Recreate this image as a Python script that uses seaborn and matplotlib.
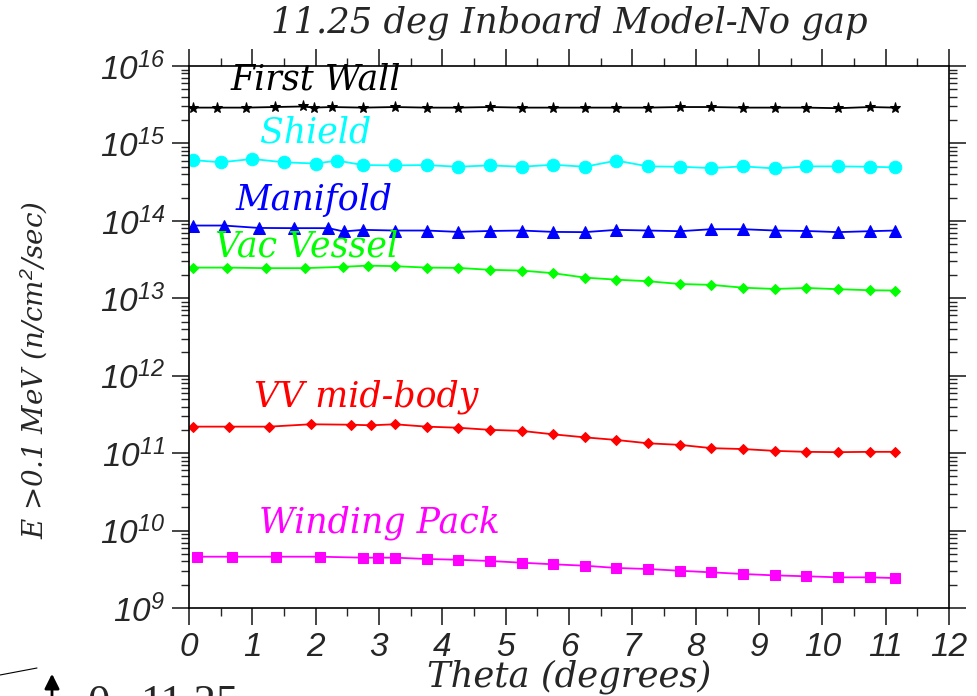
import numpy as np
import pandas as pd
import matplotlib
matplotlib.use("Agg")
import matplotlib.pyplot as plt
import matplotlib.ticker as mticker
import seaborn as sns

# --- data ---
fw_theta = [0.06, 0.44, 0.9, 1.35, 1.8, 1.97, 2.25, 2.75, 3.25, 3.75, 4.25, 4.75, 5.25,
            5.75, 6.25, 6.75, 7.25, 7.75, 8.25, 8.75, 9.25, 9.75, 10.25, 10.75, 11.15]
fw_flux = [2.9e15, 2.9e15, 2.9e15, 2.95e15, 3.0e15, 2.9e15, 2.95e15, 2.9e15, 2.95e15, 2.9e15,
           2.9e15, 2.95e15, 2.9e15, 2.9e15, 2.9e15, 2.9e15, 2.9e15, 2.95e15, 2.95e15, 2.9e15,
           2.9e15, 2.9e15, 2.85e15, 2.95e15, 2.9e15]

sh_theta = [0.06, 0.5, 1.0, 1.5, 2.0, 2.34, 2.75, 3.25, 3.75, 4.25, 4.75, 5.25,
            5.75, 6.25, 6.75, 7.25, 7.75, 8.25, 8.75, 9.25, 9.75, 10.25, 10.75, 11.15]
sh_flux = [6.1e14, 5.7e14, 6.3e14, 5.7e14, 5.5e14, 6.0e14, 5.25e14, 5.2e14, 5.25e14, 5.0e14,
           5.2e14, 5.0e14, 5.3e14, 5.0e14, 6.0e14, 5.05e14, 5.0e14, 4.8e14, 5.05e14, 4.75e14,
           5.05e14, 5.05e14, 5.0e14, 4.9e14]

mf_theta = [0.06, 0.55, 1.1, 1.65, 2.2, 2.44, 2.75, 3.25, 3.75, 4.25, 4.75, 5.25,
            5.75, 6.25, 6.75, 7.25, 7.75, 8.25, 8.75, 9.25, 9.75, 10.25, 10.75, 11.15]
mf_flux = [8.7e13, 8.7e13, 8.1e13, 8.05e13, 8.05e13, 7.3e13, 7.65e13, 7.5e13, 7.5e13, 7.2e13,
           7.4e13, 7.5e13, 7.2e13, 7.15e13, 7.65e13, 7.5e13, 7.35e13, 7.8e13, 7.8e13, 7.5e13,
           7.4e13, 7.15e13, 7.35e13, 7.5e13]

vv_theta = [0.06, 0.6, 1.22, 1.83, 2.43, 2.82, 3.25, 3.75, 4.25, 4.75, 5.25,
            5.75, 6.25, 6.75, 7.25, 7.75, 8.25, 8.75, 9.25, 9.75, 10.25, 10.75, 11.15]
vv_flux = [2.49e13, 2.49e13, 2.45e13, 2.45e13, 2.55e13, 2.64e13, 2.6e13, 2.49e13, 2.47e13,
           2.33e13, 2.28e13, 2.11e13, 1.85e13, 1.74e13, 1.66e13, 1.53e13, 1.49e13, 1.37e13,
           1.32e13, 1.36e13, 1.31e13, 1.27e13, 1.26e13]

mb_theta = [0.06, 0.63, 1.27, 1.92, 2.55, 2.88, 3.25, 3.75, 4.25, 4.75, 5.25,
            5.75, 6.25, 6.75, 7.25, 7.75, 8.25, 8.75, 9.25, 9.75, 10.25, 10.75, 11.15]
mb_flux = [2.2e11, 2.2e11, 2.2e11, 2.36e11, 2.33e11, 2.29e11, 2.36e11, 2.2e11, 2.13e11,
           2.0e11, 1.94e11, 1.75e11, 1.6e11, 1.48e11, 1.34e11, 1.28e11, 1.16e11, 1.13e11,
           1.07e11, 1.04e11, 1.03e11, 1.04e11, 1.04e11]

wp_theta = [0.12, 0.68, 1.37, 2.06, 2.75, 2.98, 3.25, 3.75, 4.25, 4.75, 5.25,
            5.75, 6.25, 6.75, 7.25, 7.75, 8.25, 8.75, 9.25, 9.75, 10.25, 10.75, 11.15]
wp_flux = [4.6e9, 4.6e9, 4.6e9, 4.6e9, 4.47e9, 4.47e9, 4.47e9, 4.3e9, 4.2e9, 4.05e9, 3.85e9,
           3.67e9, 3.52e9, 3.29e9, 3.19e9, 3.03e9, 2.89e9, 2.75e9, 2.64e9, 2.57e9, 2.49e9,
           2.49e9, 2.44e9]

names = ["First Wall", "Shield", "Manifold", "Vac Vessel", "VV mid-body", "Winding Pack"]
colors = ["black", "#00FFFF", "#0000FF", "#00FF00", "#FF0000", "#FF00FF"]
markers = ["*", "o", "^", "D", "D", "s"]
msizes = [8, 9, 8, 5.5, 5.5, 7.5]
label_pos = [(2.0, 10**15.82), (2.0, 10**15.14), (1.97, 10**14.27), (1.85, 10**13.67),
             (2.8, 10**11.73), (3.0, 10**10.10)]

series = [(fw_theta, fw_flux), (sh_theta, sh_flux), (mf_theta, mf_flux),
          (vv_theta, vv_flux), (mb_theta, mb_flux), (wp_theta, wp_flux)]
df = pd.concat([pd.DataFrame({"theta": t, "flux": f, "part": n})
                for (t, f), n in zip(series, names)], ignore_index=True)

sns.set_style("ticks")
plt.rcParams["mathtext.fontset"] = "custom"
plt.rcParams["mathtext.it"] = "Liberation Sans:italic"
plt.rcParams["mathtext.rm"] = "Liberation Sans:italic"
plt.rcParams["mathtext.default"] = "it"

fig = plt.figure(figsize=(9.77, 6.96), dpi=100)
ax = fig.add_axes([0.1935, 0.1264, 0.9713 - 0.1935, 0.9052 - 0.1264])

for n, c, m, s in zip(names, colors, markers, msizes):
    sns.lineplot(data=df[df.part == n], x="theta", y="flux", color=c, marker=m,
                 markersize=s, markeredgecolor=c, linewidth=1.3, ax=ax,
                 estimator=None, legend=False)

ax.set_yscale("log")
ax.set_xlim(0, 12)
ax.set_ylim(1e9, 1e16)

serif_it = dict(family="DejaVu Serif", style="italic")
for n, c, (x, y) in zip(names, colors, label_pos):
    ax.text(x, y, n, color=c, fontsize=25, ha="center", va="center", **serif_it)

ax.set_title("11.25 deg Inboard Model-No gap", fontsize=25.5, pad=24, **serif_it)
ax.set_xlabel("Theta (degrees)", fontsize=25.5, labelpad=-2, **serif_it)
ax.set_ylabel(r"E >0.1 MeV (n/cm$^2$/sec)", fontsize=20, **serif_it)
ax.yaxis.set_label_coords(-0.183, 0.44)

ax.xaxis.set_major_locator(mticker.MultipleLocator(1))
ax.xaxis.set_minor_locator(mticker.MultipleLocator(0.5))
ax.yaxis.set_major_locator(mticker.LogLocator(base=10, numticks=20))
ax.yaxis.set_minor_locator(mticker.LogLocator(base=10, subs=np.arange(2, 10), numticks=20))
ax.yaxis.set_minor_formatter(mticker.NullFormatter())
ax.yaxis.set_major_formatter(mticker.FuncFormatter(lambda v, p: r"$10^{%d}$" % round(np.log10(v))))

for lab in ax.get_xticklabels():
    lab.set_fontfamily("Liberation Sans")
    lab.set_fontstyle("italic")
ax.tick_params(axis="both", which="major", direction="out", length=12, width=1.2,
               labelsize=24, top=True, right=True, pad=5)
ax.tick_params(axis="both", which="minor", direction="out", length=6, width=1.0,
               top=True, right=True)
ax.tick_params(axis="x", which="major", pad=5)
for sp in ax.spines.values():
    sp.set_visible(True)
    sp.set_linewidth(1.2)
    sp.set_color("black")

# stray annotation cut at the bottom-left edge of the page
fig.add_artist(plt.Line2D([0, 37 / 977], [1 - 675 / 696, 1 - 668 / 696], color="black",
                          linewidth=0.8))
fig.add_artist(matplotlib.patches.FancyArrowPatch((52 / 977, -0.01), (52 / 977, 1 - 671 / 696),
                                                  transform=fig.transFigure, arrowstyle="-|>",
                                                  mutation_scale=22, color="black", linewidth=2))
fig.text(87 / 977, -0.027, "0", fontsize=32, family="Liberation Serif", va="baseline")
fig.text(140 / 977, -0.027, "11.25", fontsize=32, family="Liberation Serif", va="baseline")

fig.savefig("out.png", dpi=100)
